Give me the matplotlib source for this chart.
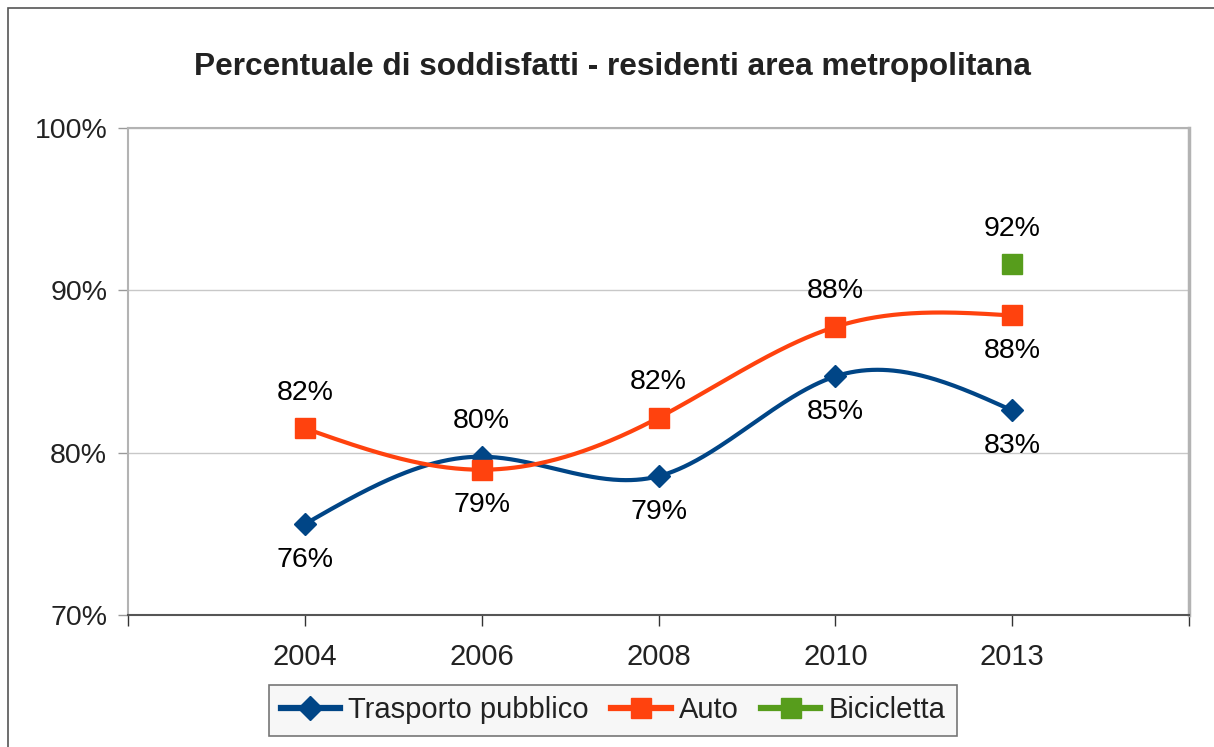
import numpy as np
import matplotlib
matplotlib.use("Agg")
import matplotlib.pyplot as plt
from matplotlib.patches import Rectangle
from matplotlib.lines import Line2D

plt.rcParams['font.family'] = ['Liberation Sans', 'DejaVu Sans']

title = "Percentuale di soddisfatti - residenti area metropolitana"
years = ["2004", "2006", "2008", "2010", "2013"]
trasporto = [75.6, 79.75, 78.55, 84.7, 82.6]
auto = [81.5, 78.95, 82.15, 87.75, 88.45]
bici_year = "2013"
bici = [91.6]
trasporto_lbl = ["76%", "80%", "79%", "85%", "83%"]
auto_lbl = ["82%", "79%", "82%", "88%", "88%"]
bici_lbl = ["92%"]
trasporto_pos = ["below", "above", "below", "below", "below"]
auto_pos = ["above", "below", "above", "above", "below"]
yticks = [70, 80, 90, 100]

BLUE = "#004586"
ORANGE = "#ff420e"
GREEN = "#579d1c"


def natural_spline(x, y, n=400):
    x = np.asarray(x, float)
    y = np.asarray(y, float)
    m = len(x)
    h = np.diff(x)
    A = np.zeros((m, m))
    b = np.zeros(m)
    A[0, 0] = 1
    A[-1, -1] = 1
    for i in range(1, m - 1):
        A[i, i - 1] = h[i - 1]
        A[i, i] = 2 * (h[i - 1] + h[i])
        A[i, i + 1] = h[i]
        b[i] = 3 * ((y[i + 1] - y[i]) / h[i] - (y[i] - y[i - 1]) / h[i - 1])
    c = np.linalg.solve(A, b)
    xs = np.linspace(x[0], x[-1], n)
    ys = np.empty_like(xs)
    for k, xv in enumerate(xs):
        i = min(np.searchsorted(x, xv, side='right') - 1, m - 2)
        dx = xv - x[i]
        bi = (y[i + 1] - y[i]) / h[i] - h[i] * (2 * c[i] + c[i + 1]) / 3
        di = (c[i + 1] - c[i]) / (3 * h[i])
        ys[k] = y[i] + bi * dx + c[i] * dx ** 2 + di * dx ** 3
    return xs, ys


fig = plt.figure(figsize=(12.14, 7.47), dpi=100)
fig.patch.set_facecolor("white")

# outer border
fig.add_artist(Rectangle((8 / 1214, -0.5), 3.0, 1 - 8 / 747 + 0.5,
                         transform=fig.transFigure, fill=False,
                         edgecolor="#555555", linewidth=1.2))

ax = fig.add_axes([128 / 1214, 1 - 615 / 747, (1189 - 128) / 1214, (615 - 128) / 747])
x = np.arange(1, len(years) + 1)

ax.set_xlim(0, len(years) + 1)
ax.set_ylim(70, 100)

ax.grid(axis='y', color="#c8c8c8", linewidth=1)
ax.set_axisbelow(True)

xs, ys = natural_spline(x, trasporto)
ax.plot(xs, ys, color=BLUE, lw=3, solid_capstyle='butt', zorder=3)
ax.plot(x, trasporto, 'D', color=BLUE, ms=11, zorder=4)
xs, ys = natural_spline(x, auto)
ax.plot(xs, ys, color=ORANGE, lw=3, solid_capstyle='butt', zorder=3)
ax.plot(x, auto, 's', color=ORANGE, ms=14, zorder=4)
bx = [years.index(bici_year) + 1]
ax.plot(bx, bici, 's', color=GREEN, ms=14, zorder=4)

off = 2.2
fs = 20.5
for xi, v, l, p in zip(x, trasporto, trasporto_lbl, trasporto_pos):
    ax.text(xi, v + (off if p == "above" else -off), l, ha='center', va='center', fontsize=fs, color="#000000")
for xi, v, l, p in zip(x, auto, auto_lbl, auto_pos):
    ax.text(xi, v + (off if p == "above" else -off), l, ha='center', va='center', fontsize=fs, color="#000000")
for xi, v, l in zip(bx, bici, bici_lbl):
    ax.text(xi, v + off, l, ha='center', va='center', fontsize=fs, color="#000000")

ax.set_yticks(yticks)
ax.set_yticklabels([f"{t}%" for t in yticks], fontsize=fs, color="#222222")
ax.set_xticks(np.arange(0, len(years) + 2))
ax.set_xticklabels([""] + years + [""], fontsize=21, color="#222222")
ax.tick_params(axis='y', length=7, width=1, color="#999999", pad=8)
ax.tick_params(axis='x', length=8, width=1, color="#333333", pad=12)

for s in ['left', 'top', 'right']:
    ax.spines[s].set_color("#b3b3b3")
    ax.spines[s].set_linewidth(1.5)
ax.spines['right'].set_linewidth(2.5)
ax.spines['bottom'].set_color("#555555")
ax.spines['bottom'].set_linewidth(1.5)

fig.text(612 / 1214, 1 - 67 / 747, title, ha='center', va='center', fontsize=22.8, fontweight='bold', color="#222222")

handles = [
    Line2D([], [], color=BLUE, lw=4.5, marker='D', ms=12),
    Line2D([], [], color=ORANGE, lw=4.5, marker='s', ms=15),
    Line2D([], [], color=GREEN, lw=4.5, marker='s', ms=15),
]
leg = fig.legend(handles, ["Trasporto pubblico", "Auto", "Bicicletta"], loc='center',
                 bbox_to_anchor=(613 / 1214, 1 - 710.5 / 747), ncol=3, fontsize=21,
                 frameon=True, fancybox=False, handlelength=2.05, handletextpad=0.28,
                 columnspacing=0.75, borderpad=0.4, borderaxespad=0, labelcolor="#222222")
leg.get_frame().set_facecolor("#f5f5f5")
leg.get_frame().set_edgecolor("#555555")
leg.get_frame().set_linewidth(1.2)

fig.savefig("out.png", dpi=100)
